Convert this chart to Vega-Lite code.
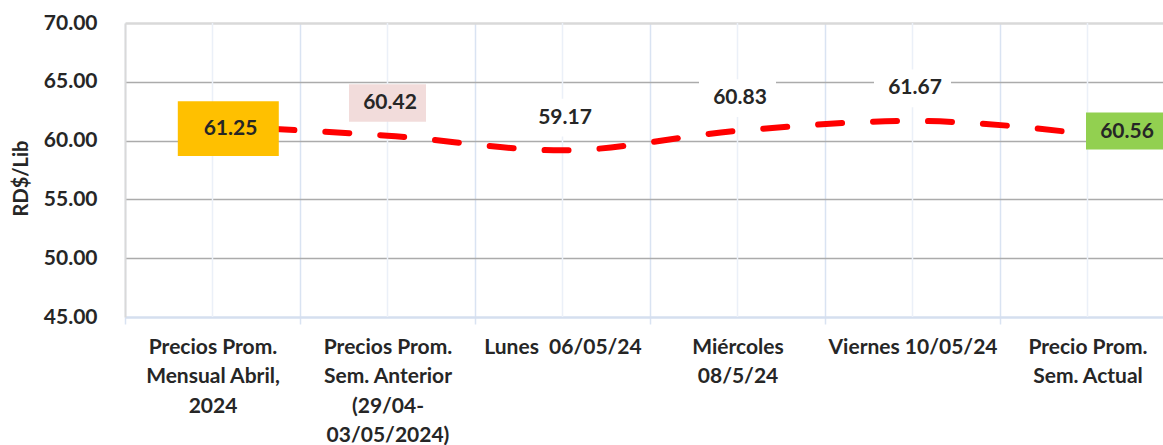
{
  "$schema": "https://vega.github.io/schema/vega-lite/v6.json",
  "autosize": {"type": "none"},
  "padding": {"left": 125, "top": 23, "right": 0, "bottom": 128},
  "width": 1038,
  "height": 294,
  "background": "white",
  "config": {"view": {"stroke": null}, "font": "Lato"},
  "data": {"values": [
    {"periodo": "Precios Prom.\nMensual Abril,\n2024", "tipo": "Mensual", "precio": 61.25},
    {"periodo": "Precios Prom.\nSem. Anterior\n(29/04-\n03/05/2024)", "tipo": "Semana anterior", "precio": 60.42},
    {"periodo": "Lunes  06/05/24", "tipo": "Día", "precio": 59.17},
    {"periodo": "Miércoles\n08/5/24", "tipo": "Día", "precio": 60.83},
    {"periodo": "Viernes 10/05/24", "tipo": "Día", "precio": 61.67},
    {"periodo": "Precio Prom.\nSem. Actual", "tipo": "Semana actual", "precio": 60.56}
  ]},
  "encoding": {
    "x": {
      "field": "periodo", "type": "nominal", "sort": null, "bandPosition": 0.5,
      "scale": {"type": "band", "range": [0, 1050], "paddingInner": 0, "paddingOuter": 0},
      "axis": {
        "title": null, "labelAngle": 0,
        "labelExpr": "split(replace(datum.label, '  ', '\u00a0 '), '\\n')",
        "tickBand": "extent",
        "grid": true, "gridColor": "#D9E3F2", "gridWidth": 1.5,
        "ticks": true, "tickColor": "#D9E3F2", "tickWidth": 1.5, "tickSize": 7,
        "domainColor": "#D5DFEF", "domainWidth": 2.5,
        "labelPadding": 12, "labelFont": "Lato", "labelFontSize": 21, "labelFontWeight": "bold",
        "labelColor": "#262626", "labelLineHeight": 29.5, "labelLimit": 0,
        "labelBaseline": "top", "labelOverlap": false, "labelBound": false
      }
    }
  },
  "layer": [
    {
      "mark": {"type": "rule", "color": "#EBF0F8", "strokeWidth": 1.5},
      "encoding": {}
    },
    {
      "mark": {"type": "line", "color": "#FF0000", "strokeWidth": 6, "strokeDash": [24, 31], "strokeDashOffset": -3, "strokeCap": "round", "interpolate": "monotone"},
      "encoding": {
        "y": {
          "field": "precio", "type": "quantitative",
          "scale": {"domain": [45, 70], "nice": false, "zero": false},
          "axis": {
            "values": [45, 50, 55, 60, 65, 70], "format": ".2f", "title": "RD$/Lib",
            "grid": true,
            "gridColor": {"condition": {"test": "datum.value === 70", "value": "#D9D9D9"}, "value": "#ABABAB"},
            "gridWidth": {"condition": {"test": "datum.value === 70", "value": 2.5}, "value": 1.5},
            "gridOpacity": {"condition": {"test": "datum.value === 45", "value": 0}, "value": 1},
            "domainColor": "#D9D9D9", "domainWidth": 2,
            "ticks": false, "tickSize": 0, "labelPadding": 28,
            "labelFont": "Lato", "labelFontSize": 21, "labelFontWeight": "bold", "labelColor": "#262626",
            "titleFont": "Lato", "titleFontSize": 20, "titleFontWeight": "bold", "titleColor": "#262626",
            "titlePadding": 12, "titleY": 155
          }
        }
      }
    },
    {
      "mark": {"type": "point", "filled": true, "opacity": 1, "size": 400, "strokeWidth": 0},
      "encoding": {
        "y": {"field": "precio", "type": "quantitative"},
        "shape": {
          "field": "tipo", "type": "nominal", "legend": null,
          "scale": {
            "domain": ["Mensual", "Semana anterior", "Día", "Semana actual"],
            "range": ["M-3.47,-2.47H6.63V3H-3.47Z", "M-3.85,-5.15H3.85V-1.38H-3.85Z", "M-3.85,-5.15H3.85V-1.38H-3.85Z", "M-0.15,-2.15H7.95V1.55H-0.15Z"]
          }
        },
        "fill": {
          "field": "tipo", "type": "nominal", "legend": null,
          "scale": {
            "domain": ["Mensual", "Semana anterior", "Día", "Semana actual"],
            "range": ["#FFC000", "#F2DCDB", "#FFFFFF", "#92D050"]
          }
        }
      }
    },
    {
      "transform": [{"filter": "datum.tipo === 'Mensual'"}],
      "mark": {"type": "text", "font": "Lato", "fontSize": 21, "fontWeight": "bold", "color": "#262626", "align": "center", "baseline": "middle", "dx": 18, "dy": 3.5},
      "encoding": {
        "y": {"field": "precio", "type": "quantitative"},
        "text": {"field": "precio", "type": "quantitative", "format": ".2f"}
      }
    },
    {
      "transform": [{"filter": "datum.tipo === 'Semana anterior' || datum.tipo === 'Día'"}],
      "mark": {"type": "text", "font": "Lato", "fontSize": 21, "fontWeight": "bold", "color": "#262626", "align": "center", "baseline": "middle", "dx": 2.5, "dy": -32.5},
      "encoding": {
        "y": {"field": "precio", "type": "quantitative"},
        "text": {"field": "precio", "type": "quantitative", "format": ".2f"}
      }
    },
    {
      "transform": [{"filter": "datum.tipo === 'Semana actual'"}],
      "mark": {"type": "text", "font": "Lato", "fontSize": 21, "fontWeight": "bold", "color": "#262626", "align": "center", "baseline": "middle", "dx": 39.5, "dy": -2},
      "encoding": {
        "y": {"field": "precio", "type": "quantitative"},
        "text": {"field": "precio", "type": "quantitative", "format": ".2f"}
      }
    }
  ]
}
